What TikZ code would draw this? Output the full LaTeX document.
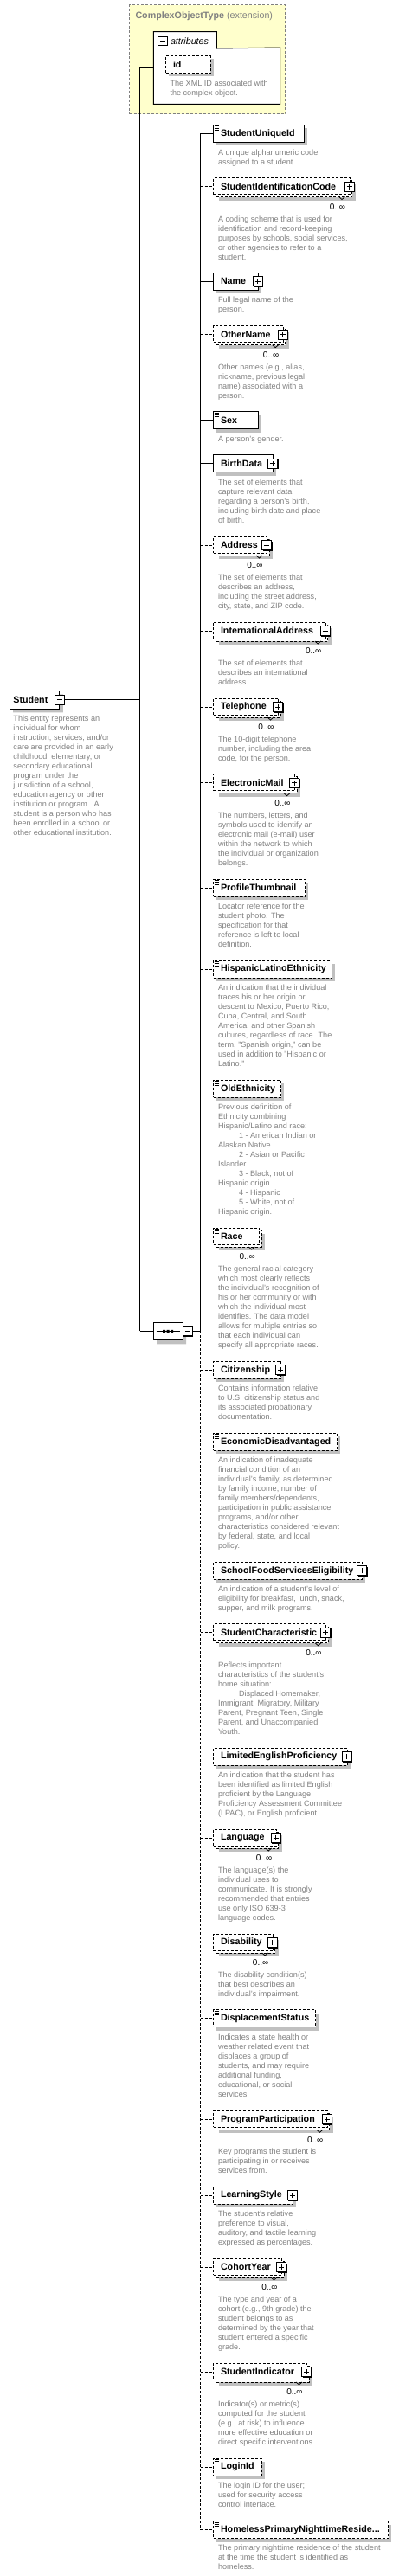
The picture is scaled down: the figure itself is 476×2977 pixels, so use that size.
\documentclass[tikz,border=0pt]{standalone}
\usepackage{fontspec}
\setmainfont{Liberation Sans}
\usetikzlibrary{shapes.misc,shadows}
\definecolor{shadowc}{RGB}{192,192,192}
\definecolor{descc}{RGB}{128,128,128}
\definecolor{ylw}{RGB}{255,255,204}
\definecolor{cotgray}{RGB}{128,128,128}
\newcommand\dind{\hspace*{24pt}}
\tikzset{
 lab/.style={font=\fontsize{10.7}{13}\selectfont\bfseries, inner sep=0},
 desc/.style={font=\fontsize{9.1}{11}\selectfont, text=descc, align=left, inner sep=0},
 occ/.style={font=\fontsize{10}{12}\selectfont, inner sep=0},
 dsh/.style={dash pattern=on 3pt off 2pt},
 reqbox/.style={draw, fill=white, inner sep=0},
 optbox/.style={draw, fill=white, inner sep=0, dsh},
 reqline/.style={draw},
 optline/.style={draw, dsh},
 pm/.style={draw, fill=white, minimum size=11, inner sep=0, drop shadow={shadow xshift=1pt, shadow yshift=-1pt, fill=black, opacity=1}},
 shd/.style={drop shadow={shadow xshift=4pt, shadow yshift=-4pt, fill=shadowc, opacity=1}},
}
% single element: id, cy, R, label, boxstyle, linestyle
\newcommand\ElemS[6]{%
  \coordinate (#1t) at (231.7,#2);
  \fill[shadowc] (250,#2-6) rectangle (#3+4,#2+14);
  \node[#5, minimum width=#3-246, minimum height=20, anchor=west] (#1) at (246,#2) {};
  \node[lab, anchor=west] (#1l) at (254.5,#2) {#4};
  \draw[#6] (#1t) -- (#1t -| #1.west);
}
% multi element
\newcommand\ElemM[6]{%
  \coordinate (#1t) at (231.7,#2);
  \fill[shadowc] (253,#2-3) rectangle (#3+7,#2+16);
  \draw[#5] (249,#2-7) rectangle (#3+3,#2+12);
  \node[#5, minimum width=#3-246, minimum height=19, anchor=west] (#1) at (246,#2-0.5) {};
  \node[lab, anchor=west] (#1l) at (254.5,#2) {#4};
  \draw[line width=0.8pt] (#3-12,#2+12) -- (#3-8.5,#2+15) -- (#3-5,#2+12);
  \node[occ, anchor=east] (#1o) at (#3-4,#2+23.5) {0..∞};
  \draw[#6] (#1t) -- (#1t -| #1.west);
}
\newcommand\Eplus[3]{%
  \node[pm] (#1p) at (#3,#2) {};
  \draw ([xshift=-3pt]#1p.center) -- ([xshift=3pt]#1p.center) ([yshift=-3pt]#1p.center) -- ([yshift=3pt]#1p.center);
}
\newcommand\Eicon[1]{%
  \draw[line width=0.8pt] (247.5,#1-8.5) -- (253,#1-8.5) (247.5,#1-6.3) -- (253,#1-6.3) (247.5,#1-4.1) -- (253,#1-4.1);
}
\newcommand\Edesc[3]{%
  \node[desc, anchor=north west] (#1d) at (251.5,#2-5.6) {\rule{0pt}{8pt}#3};
}
\begin{document}
\begin{tikzpicture}[x=1pt,y=-1pt,line width=1pt]
\useasboundingbox (0,0) rectangle (476,2977);

% ComplexObjectType
\node[draw=cotgray, dsh, fill=ylw, minimum width=180, minimum height=126, anchor=north west, inner sep=0] (cot) at (149.3,5) {};
\node[anchor=west, text=cotgray, font=\fontsize{10.7}{13}\selectfont, inner sep=0] (cott) at (156,18.3) {\textbf{ComplexObjectType} (extension)};
\node[fill=white, minimum width=145.4, minimum height=64.3, anchor=north west, inner sep=0] (attr) at (177.3,55) {};
\node[fill=white, minimum width=72, minimum height=18.3, anchor=north west, inner sep=0] (attrtab) at (177.3,36.7) {};
\draw (attrtab.north west) -- (attrtab.north east) -- (attrtab.south east) -- (attr.north east) -- (attr.south east) -- (attr.south west) -- cycle;
\node[draw, fill=white, minimum size=10.5, inner sep=0] (attrm) at (187.8,47.5) {};
\draw ([xshift=-3pt]attrm.center) -- ([xshift=3pt]attrm.center);
\node[anchor=west, inner sep=0, font=\fontsize{10.7}{13}\selectfont\itshape] (attrl) at (196.5,47.3) {attributes};
\fill[shadowc] (195,68.3) rectangle (246.7,88.3);
\node[optbox, minimum width=51.7, minimum height=20, anchor=north west] (idb) at (191,64.3) {};
\node[lab, anchor=west] (idl) at (199.5,74.3) {id};
\node[desc, anchor=north west] (idd) at (196,96.7-5.6) {\rule{0pt}{8pt}The XML ID associated with\\the complex object.};

% main vertical line
\coordinate (va) at (161.7,78.3);
\coordinate (vb) at (161.7,1538.3);
\coordinate (studj) at (161.7,808.8);
\draw (va -| attr.west) -- (va) -- (vb);

% Student
\node[chamfered rectangle, chamfered rectangle corners={north west,south west}, chamfered rectangle xsep=4pt, draw, fill=white, minimum width=57.6, minimum height=21, inner sep=0, anchor=west, shd] (stud) at (10.7,808.8) {};
\node[lab, anchor=west] (studl) at (15,808.8) {Student};
\node[pm] (studm) at (68.8,808.8) {};
\draw ([xshift=-3pt]studm.center) -- ([xshift=3pt]studm.center);
\draw (studm.east) -- (studj);
\node[desc, anchor=north west] (studd) at (15,830.7-5.6) {\rule{0pt}{8pt}This entity represents an\\individual for whom\\instruction, services, and/or\\care are provided in an early\\childhood, elementary, or\\secondary educational\\program under the\\jurisdiction of a school,\\education agency or other\\institution or program.\ \ A\\student is a person who has\\been enrolled in a school or\\other educational institution.};

% sequence
\node[chamfered rectangle, chamfered rectangle xsep=4pt, draw, fill=white, minimum width=34, minimum height=20, inner sep=0, drop shadow={shadow xshift=4pt, shadow yshift=-5pt, fill=shadowc, opacity=1}] (seq) at (194,1538.3) {};
\draw ([xshift=4pt]seq.west) -- ([xshift=-4pt]seq.east);
\fill (188,1536.8) rectangle (191,1539.8) (192.5,1536.8) rectangle (195.5,1539.8) (197,1536.8) rectangle (200,1539.8);
\node[pm] (seqm) at (216.8,1538.3) {};
\draw ([xshift=-3pt]seqm.center) -- ([xshift=3pt]seqm.center);
\draw (vb) -- (seq.west);
\coordinate (seqj) at (231.7,1538.3);
\draw (seqm.east) -- (seqj);

% elements
\ElemS{e1}{154.3}{350.7}{StudentUniqueId}{reqbox}{reqline}
\Eicon{154.3}
\Edesc{e1}{176.3}{A unique alphanumeric code\\assigned to a student.}

\ElemM{e2}{215.5}{403.5}{StudentIdentificationCode}{optbox}{optline}
\Eplus{e2}{215.5}{403.5}
\Edesc{e2}{253.5}{A coding scheme that is used for\\identification and record-keeping\\purposes by schools, social services,\\or other agencies to refer to a\\student.}

\ElemS{e3}{325}{297.7}{Name}{reqbox}{reqline}
\Eplus{e3}{325}{297.7}
\Edesc{e3}{347}{Full legal name of the\\person.}

\ElemM{e4}{386.7}{326.7}{OtherName}{optbox}{optline}
\Eplus{e4}{386.7}{326.7}
\Edesc{e4}{424.7}{Other names (e.g., alias,\\nickname, previous legal\\name) associated with a\\person.}

\ElemS{e5}{485.7}{297.7}{Sex}{reqbox}{reqline}
\Eicon{485.7}
\Edesc{e5}{507.7}{A person's gender.}

\ElemS{e6}{535.7}{315.3}{BirthData}{reqbox}{reqline}
\Eplus{e6}{535.7}{315.3}
\Edesc{e6}{557.7}{The set of elements that\\capture relevant data\\regarding a person's birth,\\including birth date and place\\of birth.}

\ElemM{e7}{630}{308}{Address}{optbox}{optline}
\Eplus{e7}{630}{308}
\Edesc{e7}{667.5}{The set of elements that\\describes an address,\\including the street address,\\city, state, and ZIP code.}

\ElemM{e8}{729}{375.8}{InternationalAddress}{optbox}{optline}
\Eplus{e8}{729}{375.8}
\Edesc{e8}{766.7}{The set of elements that\\describes an international\\address.}

\ElemM{e9}{817}{321}{Telephone}{optbox}{optline}
\Eplus{e9}{817}{321}
\Edesc{e9}{854.7}{The 10-digit telephone\\number, including the area\\code, for the person.}

\ElemM{e10}{904.7}{340}{ElectronicMail}{optbox}{optline}
\Eplus{e10}{904.7}{340}
\Edesc{e10}{942.7}{The numbers, letters, and\\symbols used to identify an\\electronic mail (e-mail) user\\within the network to which\\the individual or organization\\belongs.}

\ElemS{e11}{1026}{352}{ProfileThumbnail}{optbox}{optline}
\Eicon{1026}
\Edesc{e11}{1047.5}{Locator reference for the\\student photo. The\\specification for that\\reference is left to local\\definition.}

\ElemS{e12}{1120}{383.3}{HispanicLatinoEthnicity}{optbox}{optline}
\Eicon{1120}
\Edesc{e12}{1141.7}{An indication that the individual\\traces his or her origin or\\descent to Mexico, Puerto Rico,\\Cuba, Central, and South\\America, and other Spanish\\cultures, regardless of race. The\\term, "Spanish origin," can be\\used in addition to "Hispanic or\\Latino."}

\ElemS{e13}{1258.3}{324.3}{OldEthnicity}{optbox}{optline}
\Eicon{1258.3}
\Edesc{e13}{1279.5}{Previous definition of\\Ethnicity combining\\Hispanic/Latino and race:\\\dind 1 - American Indian or\\Alaskan Native\\\dind 2 - Asian or Pacific\\Islander\\\dind 3 - Black, not of\\Hispanic origin\\\dind 4 - Hispanic\\\dind 5 - White, not of\\Hispanic origin.}

\ElemM{e14}{1429}{299.3}{Race}{optbox}{optline}
\Eicon{1429}
\Edesc{e14}{1466.7}{The general racial category\\which most clearly reflects\\the individual's recognition of\\his or her community or with\\which the individual most\\identifies. The data model\\allows for multiple entries so\\that each individual can\\specify all appropriate races.}

\ElemS{e15}{1583.3}{324}{Citizenship}{optbox}{optline}
\Eplus{e15}{1583.3}{324}
\Edesc{e15}{1604.7}{Contains information relative\\to U.S. citizenship status and\\its associated probationary\\documentation.}

\ElemS{e16}{1666.3}{389.3}{EconomicDisadvantaged}{optbox}{optline}
\Eicon{1666.3}
\Edesc{e16}{1687.7}{An indication of inadequate\\financial condition of an\\individual's family, as determined\\by family income, number of\\family members/dependents,\\participation in public assistance\\programs, and/or other\\characteristics considered relevant\\by federal, state, and local\\policy.}

\ElemS{e17}{1815.3}{418}{SchoolFoodServicesEligibility}{optbox}{optline}
\Eplus{e17}{1815.3}{418}
\Edesc{e17}{1836.7}{An indication of a student's level of\\eligibility for breakfast, lunch, snack,\\supper, and milk programs.}

\ElemM{e18}{1886.7}{376}{StudentCharacteristic}{optbox}{optline}
\Eplus{e18}{1886.7}{376}
\Edesc{e18}{1924.7}{Reflects important\\characteristics of the student's\\home situation:\\\dind Displaced Homemaker,\\Immigrant, Migratory, Military\\Parent, Pregnant Teen, Single\\Parent, and Unaccompanied\\Youth.}

\ElemS{e19}{2030}{400.5}{LimitedEnglishProficiency}{optbox}{optline}
\Eplus{e19}{2030}{400.5}
\Edesc{e19}{2051.7}{An indication that the student has\\been identified as limited English\\proficient by the Language\\Proficiency Assessment Committee\\(LPAC), or English proficient.}

\ElemM{e20}{2124}{318.7}{Language}{optbox}{optline}
\Eplus{e20}{2124}{318.7}
\Edesc{e20}{2161.7}{The language(s) the\\individual uses to\\communicate. It is strongly\\recommended that entries\\use only ISO 639-3\\language codes.}

\ElemM{e21}{2245}{314.7}{Disability}{optbox}{optline}
\Eplus{e21}{2245}{314.7}
\Edesc{e21}{2282.7}{The disability condition(s)\\that best describes an\\individual's impairment.}

\ElemS{e22}{2332.7}{364}{DisplacementStatus}{optbox}{optline}
\Eicon{2332.7}
\Edesc{e22}{2354.3}{Indicates a state health or\\weather related event that\\displaces a group of\\students, and may require\\additional funding,\\educational, or social\\services.}

\ElemM{e23}{2449.3}{377.8}{ProgramParticipation}{optbox}{optline}
\Eplus{e23}{2449.3}{377.8}
\Edesc{e23}{2486.7}{Key programs the student is\\participating in or receives\\services from.}

\ElemS{e24}{2537}{337.8}{LearningStyle}{optbox}{optline}
\Eplus{e24}{2537}{337.8}
\Edesc{e24}{2558.3}{The student's relative\\preference to visual,\\auditory, and tactile learning\\expressed as percentages.}

\ElemM{e25}{2620}{325}{CohortYear}{optbox}{optline}
\Eplus{e25}{2620}{325}
\Edesc{e25}{2657.7}{The type and year of a\\cohort (e.g., 9th grade) the\\student belongs to as\\determined by the year that\\student entered a specific\\grade.}

\ElemM{e26}{2741}{354}{StudentIndicator}{optbox}{optline}
\Eplus{e26}{2741}{354}
\Edesc{e26}{2778.3}{Indicator(s) or metric(s)\\computed for the student\\(e.g., at risk) to influence\\more effective education or\\direct specific interventions.}

\ElemS{e27}{2851}{301.7}{LoginId}{optbox}{optline}
\Eicon{2851}
\Edesc{e27}{2873}{The login ID for the user;\\used for security access\\control interface.}

\ElemS{e28}{2923.7}{448.3}{HomelessPrimaryNighttimeReside...}{optbox}{optline}
\Eicon{2923.7}
\Edesc{e28}{2944.5}{The primary nighttime residence of the student\\at the time the student is identified as\\homeless.}

% trunk
\draw (e1t) -- (seqj);
\draw[dsh] (seqj) -- (e28t);
\end{tikzpicture}
\end{document}
